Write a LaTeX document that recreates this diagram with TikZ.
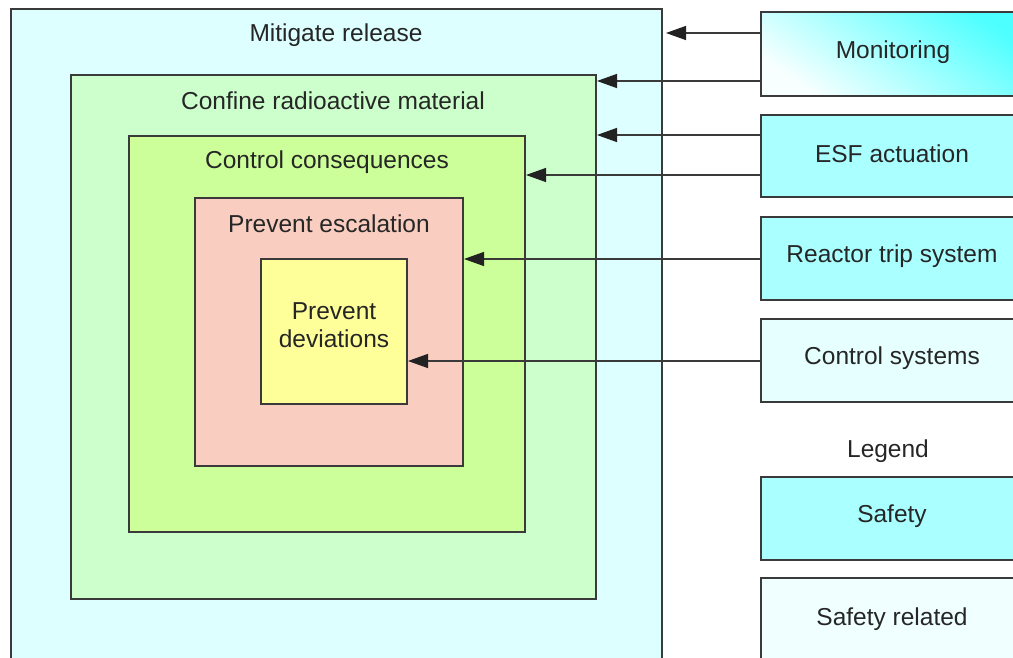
\documentclass[tikz,border=0pt]{standalone}
\usepackage{fontspec}
\setmainfont{Liberation Sans}
\usetikzlibrary{arrows.meta}
\definecolor{cOuter}{HTML}{DDFFFF}
\definecolor{cConfine}{HTML}{CCFFCC}
\definecolor{cCons}{HTML}{CCFF99}
\definecolor{cEsc}{HTML}{F9CDC0}
\definecolor{cDev}{HTML}{FFFF99}
\definecolor{cSafe}{HTML}{AAFFFF}
\definecolor{cCtrl}{HTML}{E6FFFF}
\definecolor{cRel}{HTML}{F0FFFF}
\definecolor{cMonA}{HTML}{4DFFFF}
\definecolor{cMonB}{HTML}{F8FFFF}
\definecolor{cLine}{HTML}{3A3A3A}
\definecolor{cTip}{HTML}{222222}
\tikzset{
  box/.style={draw=cLine, line width=1.3pt, inner sep=0pt, outer sep=0pt},
  lbl/.style={font=\fontsize{24.5}{28}\selectfont, text=black!85, align=center, inner sep=0pt},
  arr/.style={draw=cLine, line width=1.4pt, -{Triangle[length=20pt,width=14pt,fill=cTip,color=cTip]}},
}
\begin{document}
\begin{tikzpicture}[x=1pt,y=-1pt]
\useasboundingbox (0,0) rectangle (1013,658);
\clip (0,0) rectangle (1013,658);
% nested boxes
\node[box, fill=cOuter, minimum width=651pt, minimum height=670pt, anchor=north west] (outer) at (11,9) {};
\node[box, fill=cConfine, minimum width=525pt, minimum height=524pt, anchor=north west] (confine) at (71,75) {};
\node[box, fill=cCons, minimum width=396pt, minimum height=396pt, anchor=north west] (cons) at (129,136) {};
\node[box, fill=cEsc, minimum width=268pt, minimum height=268pt, anchor=north west] (esc) at (195,198) {};
\node[box, fill=cDev, minimum width=146pt, minimum height=145pt, anchor=north west] (dev) at (261,259) {};
\node[lbl] (tOuter) at (336,35) {Mitigate release};
\node[lbl] (tConfine) at (333,101) {Confine radioactive material};
\node[lbl] (tCons) at (327,162) {Control consequences};
\node[lbl] (tEsc) at (329,224) {Prevent escalation};
\node[lbl] (tDev) at (334,325) {Prevent\\deviations};
% right boxes
\node[box, top color=cMonA, bottom color=cMonB, shading angle=-35, minimum width=270pt, minimum height=84pt, anchor=north west] (mon) at (761,12) {};
\node[box, fill=cSafe, minimum width=270pt, minimum height=82pt, anchor=north west] (esf) at (761,115) {};
\node[box, fill=cSafe, minimum width=270pt, minimum height=83pt, anchor=north west] (rts) at (761,217) {};
\node[box, fill=cCtrl, minimum width=270pt, minimum height=83pt, anchor=north west] (ctl) at (761,319) {};
\node[box, fill=cSafe, minimum width=270pt, minimum height=83pt, anchor=north west] (safe) at (761,477) {};
\node[box, fill=cRel, minimum width=270pt, minimum height=100pt, anchor=north west] (rel) at (761,578) {};
\node[lbl] (tMon) at (893,52) {Monitoring};
\node[lbl] (tEsf) at (892,154) {ESF actuation};
\node[lbl] (tRts) at (892,256) {Reactor trip system};
\node[lbl] (tCtl) at (892,358) {Control systems};
\node[lbl] (tLeg) at (888,451) {Legend};
\node[lbl] (tSafe) at (892,516) {Safety};
\node[lbl] (tRel) at (892,619) {Safety related};
% connectors
\draw[arr, shorten >=4pt] (mon.west |- 0,33) -- (outer.east |- 0,33);
\draw[arr, shorten >=1pt] (mon.west |- 0,81) -- (confine.east |- 0,81);
\draw[arr, shorten >=1pt] (esf.west |- 0,135) -- (confine.east |- 0,135);
\draw[arr, shorten >=1pt] (esf.west |- 0,175) -- (cons.east |- 0,175);
\draw[arr, shorten >=1pt] (rts.west |- 0,259) -- (esc.east |- 0,259);
\draw[arr, shorten >=1pt] (ctl.west |- 0,361) -- (dev.east |- 0,361);
\end{tikzpicture}
\end{document}
